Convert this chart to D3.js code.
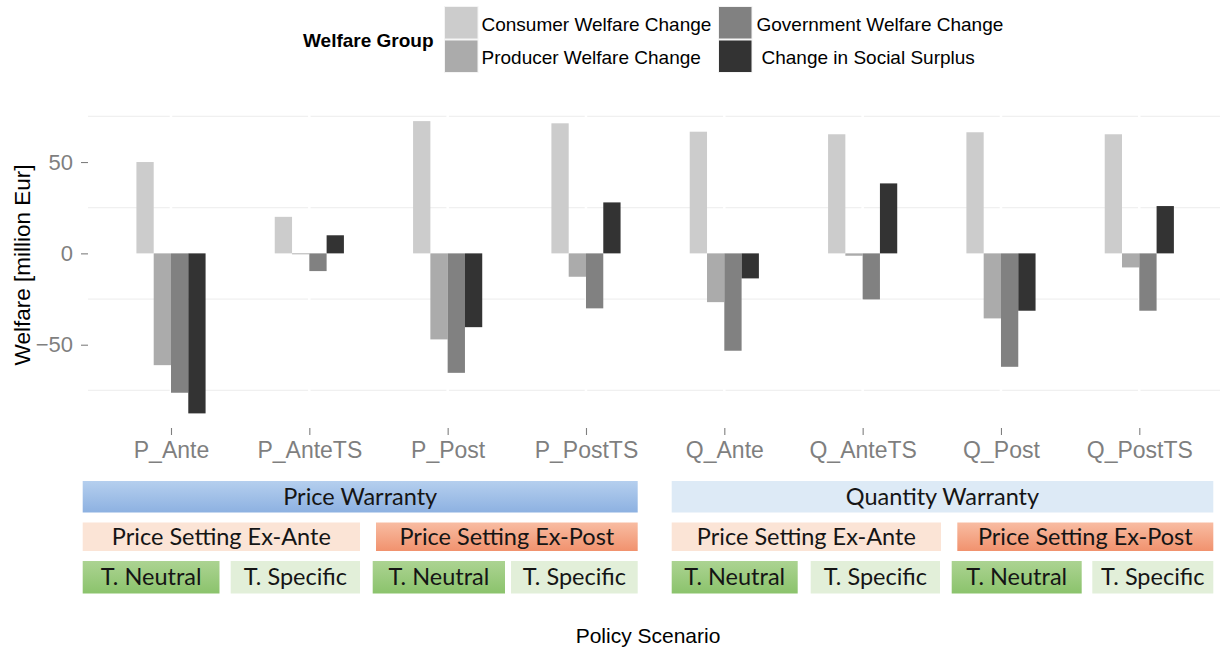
<!DOCTYPE html>
<html>
<head>
<meta charset="utf-8">
<script src="https://cdn.jsdelivr.net/npm/d3@7"></script>
<style>
  html, body { margin: 0; padding: 0; background: #ffffff; }
  svg { display: block; }
</style>
</head>
<body>
<svg id="chart" width="1220" height="653"></svg>
<script>
// ---------------- DATA ----------------
const categories = ["P_Ante", "P_AnteTS", "P_Post", "P_PostTS", "Q_Ante", "Q_AnteTS", "Q_Post", "Q_PostTS"];
const seriesNames = ["Consumer Welfare Change", "Producer Welfare Change", "Government Welfare Change", "Change in Social Surplus"];
const consumerWelfare   = [50.0, 20.0, 72.4, 71.2, 66.6, 65.2, 66.3, 65.2];
const producerWelfare   = [-61.2, -0.5, -47.1, -12.8, -26.7, -1.3, -35.6, -7.7];
const governmentWelfare = [-76.3, -9.7, -65.4, -30.1, -53.3, -25.2, -62.1, -31.4];
const socialSurplus     = [-87.6, 9.9, -40.4, 27.9, -13.7, 38.3, -31.4, 25.9];
const yTickValues = [-50, 0, 50];
const yMinorValues = [-75, -25, 25, 75];
const legendTitle = "Welfare Group";
const yTitle = "Welfare [million Eur]";
const xTitle = "Policy Scenario";
const warrantyLabels = ["Price Warranty", "Quantity Warranty"];
const settingLabels = ["Price Setting Ex-Ante", "Price Setting Ex-Post", "Price Setting Ex-Ante", "Price Setting Ex-Post"];
const techLabels = ["T. Neutral", "T. Specific", "T. Neutral", "T. Specific", "T. Neutral", "T. Specific", "T. Neutral", "T. Specific"];

// ---------------- LAYOUT / STYLE ----------------
const seriesValues = [consumerWelfare, producerWelfare, governmentWelfare, socialSurplus];
const fills = ["#cccccc", "#ababab", "#818181", "#333333"];
const panel = { left: 88, right: 1222.3, top: 106.5, bottom: 428 };
const tickFont = "'Liberation Sans', Arial, Helvetica, sans-serif";
const boxFont = "Lato, 'Open Sans', sans-serif";

const svg = d3.select("#chart");
const defs = svg.append("defs");

function vGrad(id, top, bottom) {
  const g = defs.append("linearGradient").attr("id", id)
    .attr("x1", 0).attr("y1", 0).attr("x2", 0).attr("y2", 1);
  g.append("stop").attr("offset", "0%").attr("stop-color", top);
  g.append("stop").attr("offset", "100%").attr("stop-color", bottom);
  return "url(#" + id + ")";
}
const gPW = vGrad("gPW", "#b5cfee", "#8db1e1");
const gPost = vGrad("gPost", "#f8bca2", "#f1926e");
const gNeu = vGrad("gNeu", "#acd392", "#8bc36c");

// scales
const x = d3.scalePoint().domain(categories).range([panel.left, panel.right]).padding(0.6);
const step = x.step();
const xInner = d3.scaleBand().domain(seriesNames).range([-0.25 * step, 0.25 * step]).padding(0);
const y = d3.scaleLinear().domain([-95.6, 80.4]).range([panel.bottom, panel.top]);

// grid
const grid = svg.append("g");
grid.selectAll("line.minor").data(yMinorValues).join("line")
  .attr("x1", panel.left).attr("x2", 1220)
  .attr("y1", d => y(d)).attr("y2", d => y(d))
  .attr("stroke", "#f0f0f0").attr("stroke-width", 1.2);
grid.selectAll("line.vmaj").data(categories).join("line")
  .attr("x1", d => x(d)).attr("x2", d => x(d))
  .attr("y1", panel.top).attr("y2", panel.bottom)
  .attr("stroke", "#ffffff").attr("stroke-width", 2.5);

// bars
const rows = [];
categories.forEach((c, i) => {
  seriesNames.forEach((s, j) => rows.push({ cat: c, series: s, value: seriesValues[j][i], k: j }));
});
svg.append("g").selectAll("rect").data(rows).join("rect")
  .attr("x", d => x(d.cat) + xInner(d.series))
  .attr("width", xInner.bandwidth())
  .attr("y", d => Math.min(y(d.value), y(0)))
  .attr("height", d => Math.max(Math.abs(y(d.value) - y(0)), 0.8))
  .attr("fill", d => fills[d.k]);

// y axis
const yAxis = svg.append("g").attr("transform", `translate(${panel.left},0)`)
  .call(d3.axisLeft(y).tickValues(yTickValues).tickSize(7).tickPadding(8));
yAxis.select(".domain").remove();
yAxis.selectAll(".tick line").attr("stroke", "#7f7f7f").attr("stroke-width", 1.1);
yAxis.selectAll(".tick text").attr("fill", "#7f7f7f").style("font-family", tickFont).style("font-size", "22px");

// x axis
const xAxis = svg.append("g").attr("transform", `translate(0,${panel.bottom})`)
  .call(d3.axisBottom(x).tickSize(7).tickPadding(6.5));
xAxis.select(".domain").remove();
xAxis.selectAll(".tick line").attr("stroke", "#7f7f7f").attr("stroke-width", 1.1);
xAxis.selectAll(".tick text").attr("fill", "#7f7f7f").style("font-family", tickFont).style("font-size", "23px");

// y title
svg.append("text")
  .attr("transform", "translate(30,265) rotate(-90)")
  .attr("text-anchor", "middle")
  .style("font-family", tickFont).style("font-size", "22.5px").attr("fill", "#000")
  .text(yTitle);

// x title
svg.append("text")
  .attr("x", 648).attr("y", 643)
  .attr("text-anchor", "middle")
  .style("font-family", tickFont).style("font-size", "21px").attr("fill", "#000")
  .text(xTitle);

// legend
const legend = svg.append("g");
legend.append("text").attr("x", 303).attr("y", 46.5)
  .style("font-family", tickFont).style("font-size", "19px").style("font-weight", "bold")
  .attr("fill", "#000").text(legendTitle);
const legPos = [
  { kx: 444.5, ky: 6.5, tx: 481.5, ty: 30.5 },
  { kx: 444.5, ky: 40, tx: 481.5, ty: 64 },
  { kx: 718.5, ky: 6.5, tx: 756.5, ty: 30.5 },
  { kx: 718.5, ky: 40, tx: 761.5, ty: 64 }
];
seriesNames.forEach((s, j) => {
  const p = legPos[j];
  legend.append("rect").attr("x", p.kx).attr("y", p.ky).attr("width", 33.5).attr("height", 32.5)
    .attr("fill", fills[j]).attr("stroke", "#f4f4f4").attr("stroke-width", 1);
  legend.append("text").attr("x", p.tx).attr("y", p.ty)
    .style("font-family", tickFont).style("font-size", "19px").attr("fill", "#000").text(s);
});

// scenario annotation boxes
const boxes = [];
const warrantyBoxes = [
  { x0: 82.7, x1: 637.7, fill: gPW },
  { x0: 671.7, x1: 1213.3, fill: "#ddeaf6" }
];
warrantyBoxes.forEach((b, i) => boxes.push({ ...b, y0: 481, y1: 512.5, label: warrantyLabels[i] }));
const settingBoxes = [
  { x0: 82.7, x1: 360, fill: "#fbe4d6" },
  { x0: 376, x1: 637.7, fill: gPost },
  { x0: 671.7, x1: 941, fill: "#fbe4d6" },
  { x0: 957.3, x1: 1213.3, fill: gPost }
];
settingBoxes.forEach((b, i) => boxes.push({ ...b, y0: 522.5, y1: 551, label: settingLabels[i] }));
const techBoxes = [
  { x0: 82.7, x1: 219.5, fill: gNeu },
  { x0: 230.7, x1: 360, fill: "#e2efd9" },
  { x0: 372.7, x1: 505, fill: gNeu },
  { x0: 511, x1: 637.7, fill: "#e2efd9" },
  { x0: 671.7, x1: 797.7, fill: gNeu },
  { x0: 810.7, x1: 940, fill: "#e2efd9" },
  { x0: 951.7, x1: 1081.7, fill: gNeu },
  { x0: 1092.3, x1: 1213.3, fill: "#e2efd9" }
];
techBoxes.forEach((b, i) => boxes.push({ ...b, y0: 561, y1: 593.5, label: techLabels[i] }));

const bg = svg.append("g");
bg.selectAll("rect").data(boxes).join("rect")
  .attr("x", d => d.x0).attr("y", d => d.y0)
  .attr("width", d => d.x1 - d.x0).attr("height", d => d.y1 - d.y0)
  .attr("fill", d => d.fill);
bg.selectAll("text").data(boxes).join("text")
  .attr("x", d => (d.x0 + d.x1) / 2)
  .attr("y", d => (d.y0 + d.y1) / 2 + 8)
  .attr("text-anchor", "middle")
  .style("font-family", boxFont).style("font-size", "23.5px").attr("fill", "#151515")
  .text(d => d.label);
</script>
</body>
</html>
